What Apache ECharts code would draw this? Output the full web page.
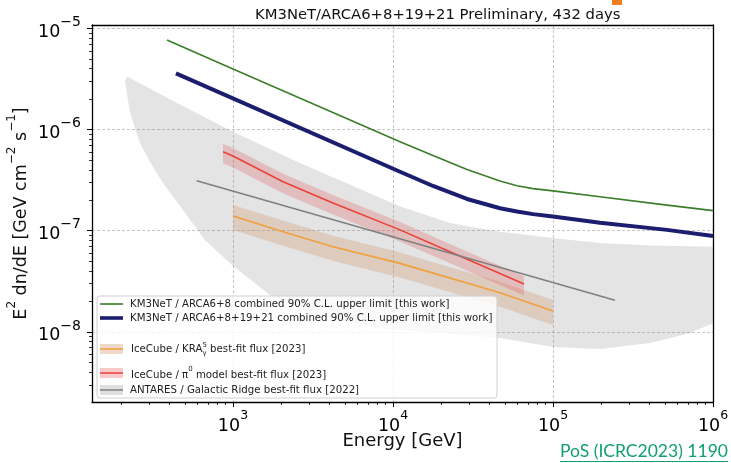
<!DOCTYPE html>
<html><head><meta charset="utf-8">
<script src="https://cdn.jsdelivr.net/npm/echarts@6/dist/echarts.min.js"></script>
<style>html,body{margin:0;padding:0;background:#fff}#c{width:731px;height:463px}</style>
</head><body><div id="c"></div>
<script>
// ---- data (energy in GeV, flux in GeV cm^-2 s^-1) ----
const xRange = [131.5, 1e6];
const yRange = [2.03e-9, 1.08e-5];
const xMajor = [1e3, 1e4, 1e5, 1e6];
const yMajor = [1e-8, 1e-7, 1e-6, 1e-5];

const arca8E = [387, 1000, 11066, 17783, 29010, 46660, 59570, 74990, 1e5, 196600, 515800, 1e6];
const arca8F = [7.66e-6, 3.96e-6, 7.57e-7, 5.53e-7, 4.03e-7, 3.10e-7, 2.78e-7, 2.61e-7, 2.48e-7, 2.17e-7, 1.79e-7, 1.58e-7];

const arca21E = [440, 11066, 17783, 29010, 46660, 59570, 74990, 1e5, 196600, 515800, 1e6];
const arca21F = [3.59e-6, 3.83e-7, 2.77e-7, 2.06e-7, 1.67e-7, 1.55e-7, 1.46e-7, 1.38e-7, 1.20e-7, 1.02e-7, 8.87e-8];

const pi0E = [866, 1000, 2054, 4217, 11066, 22700, 65900];
const pi0F = [6.04e-7, 5.47e-7, 3.05e-7, 1.88e-7, 1.02e-7, 6.2e-8, 2.97e-8];
const pi0Up = [7.25e-7, 6.56e-7, 3.66e-7, 2.26e-7, 1.22e-7, 7.4e-8, 3.56e-8];
const pi0Lo = [4.65e-7, 4.21e-7, 2.35e-7, 1.45e-7, 7.85e-8, 4.77e-8, 2.29e-8];

const kraE = [1000, 2054, 4217, 11066, 46660, 1e5];
const kraF = [1.40e-7, 9.77e-8, 6.95e-8, 4.76e-8, 2.44e-8, 1.61e-8];
const kraUp = [1.80e-7, 1.26e-7, 8.9e-8, 6.1e-8, 3.14e-8, 2.07e-8];
const kraLo = [1.02e-7, 7.1e-8, 5.05e-8, 3.46e-8, 1.77e-8, 1.17e-8];

const antE = [593, 244000];
const antF = [3.12e-7, 2.06e-8];

const antBandUpE = [211, 216, 221, 466, 1000, 2622, 11000, 22700, 46660, 1e5, 196600, 404000, 1e6];
const antBandUpF = [3.0e-6, 3.25e-6, 3.31e-6, 1.77e-6, 9.5e-7, 4.67e-7, 1.75e-7, 1.19e-7, 9.77e-8, 8.47e-8, 7.56e-8, 7.14e-8, 6.95e-8];
const antBandLoE = [211, 218, 227, 244, 262, 303, 365, 487, 668, 1000, 1703, 3500, 8300, 19700, 46660, 1e5, 196600, 404000, 718000, 1e6];
const antBandLoF = [3.0e-6, 2.19e-6, 1.49e-6, 1.035e-6, 7.36e-7, 4.78e-7, 2.96e-7, 1.60e-7, 8.1e-8, 4.48e-8, 2.32e-8, 1.44e-8, 1.09e-8, 9.76e-9, 8.7e-9, 7.1e-9, 6.78e-9, 7.76e-9, 9.75e-9, 1.22e-8];

const legendLabels = [
  'KM3NeT / ARCA6+8 combined 90% C.L. upper limit [this work]',
  'KM3NeT / ARCA6+8+19+21 combined 90% C.L. upper limit [this work]',
  'IceCube / KRA',
  '{t|IceCube / π}{s|0}{t| model best-fit flux [2023]}',
  'ANTARES / Galactic Ridge best-fit flux [2022]'
];

// ---- helpers ----
const FONT = 'DejaVu Sans';
const zip = (a, b) => a.map((v, i) => [v, b[i]]);
function minorTicks(lo, hi) {
  const out = [];
  for (let e = Math.floor(Math.log10(lo)); e <= Math.ceil(Math.log10(hi)); e++) {
    for (let m = 2; m <= 9; m++) {
      const v = m * Math.pow(10, e);
      if (v >= lo && v <= hi) out.push(v);
    }
  }
  return out;
}
function bandSeries(upE, upF, loE, loF, color, z) {
  const poly = zip(upE, upF).concat(zip(loE, loF).reverse());
  return {
    type: 'custom', z: z, silent: true, clip: true,
    data: [poly[0]],
    renderItem: function (params, api) {
      const pts = poly.map(p => api.coord(p));
      return { type: 'polygon', shape: { points: pts }, style: { fill: color, stroke: null } };
    }
  };
}
function lineSeries(E, F, color, width, z) {
  return { type: 'line', data: zip(E, F), showSymbol: false, symbol: 'none', z: z, silent: true,
    lineStyle: { color: color, width: width, cap: 'butt', join: 'round' } };
}
const xRich = {
  b: { fontFamily: FONT, fontSize: 17.5, color: '#000', lineHeight: 26, verticalAlign: 'bottom' },
  s: { fontFamily: FONT, fontSize: 12.5, color: '#000', lineHeight: 14, verticalAlign: 'top' }
};
const yRich = {
  b: { fontFamily: FONT, fontSize: 17.5, color: '#000', lineHeight: 26, verticalAlign: 'bottom' },
  s: { fontFamily: FONT, fontSize: 14, color: '#000', lineHeight: 15, verticalAlign: 'top' }
};

const C_GREEN = '#3b7d2a', C_NAVY = '#1b1d6e', C_RED = '#ea4238', C_ORANGE = '#f0a03c', C_GRAY = '#808080';

const chart = echarts.init(document.getElementById('c'), null, { renderer: 'canvas' });

// text measurement
const ctx = document.createElement('canvas').getContext('2d');
ctx.font = '10.2px "DejaVu Sans"';
const wKRA = ctx.measureText(legendLabels[2]).width;
ctx.font = '7px "DejaVu Sans"';
const wSup = Math.max(ctx.measureText('5').width, ctx.measureText('γ').width);
ctx.font = '20px Lato';
const posSize = Math.min(21, 20 * 168 / ctx.measureText('PoS (ICRC2023) 1190').width);

const LF = '10.2px "DejaVu Sans"';
const LX = 130; // legend text x
const legendGraphics = [
  { type: 'rect', shape: { x: 97, y: 296, width: 400, height: 102, r: 3 }, style: { fill: 'rgba(255,255,255,0.8)', stroke: '#d0d0d0', lineWidth: 1 }, z: 100 },
  { type: 'line', shape: { x1: 100, y1: 304, x2: 123, y2: 304 }, style: { stroke: C_GREEN, lineWidth: 1.6 }, z: 101 },
  { type: 'text', x: LX, y: 304, style: { text: legendLabels[0], font: LF, fill: '#222', verticalAlign: 'middle' }, z: 101 },
  { type: 'line', shape: { x1: 100, y1: 318, x2: 123, y2: 318 }, style: { stroke: C_NAVY, lineWidth: 3.6 }, z: 101 },
  { type: 'text', x: LX, y: 318, style: { text: legendLabels[1], font: LF, fill: '#222', verticalAlign: 'middle' }, z: 101 },
  { type: 'rect', shape: { x: 100, y: 344, width: 23, height: 10 }, style: { fill: 'rgba(210,150,100,0.35)' }, z: 101 },
  { type: 'line', shape: { x1: 100, y1: 349, x2: 123, y2: 349 }, style: { stroke: C_ORANGE, lineWidth: 1.5 }, z: 102 },
  { type: 'text', x: LX + 1, y: 349, style: { text: legendLabels[2], font: LF, fill: '#222', verticalAlign: 'middle' }, z: 101 },
  { type: 'text', x: LX + 1 + wKRA, y: 345, style: { text: '5', font: '7px "DejaVu Sans"', fill: '#222', verticalAlign: 'middle' }, z: 101 },
  { type: 'text', x: LX + 1 + wKRA, y: 353, style: { text: 'γ', font: '7px "DejaVu Sans"', fill: '#222', verticalAlign: 'middle' }, z: 101 },
  { type: 'text', x: LX + 1 + wKRA + wSup, y: 349, style: { text: ' best-fit flux [2023]', font: LF, fill: '#222', verticalAlign: 'middle' }, z: 101 },
  { type: 'rect', shape: { x: 100, y: 368, width: 23, height: 10 }, style: { fill: 'rgba(232,80,80,0.3)' }, z: 101 },
  { type: 'line', shape: { x1: 100, y1: 373, x2: 123, y2: 373 }, style: { stroke: C_RED, lineWidth: 1.5 }, z: 102 },
  { type: 'text', x: LX + 1, y: 373, style: { text: legendLabels[3], font: LF, fill: '#222', verticalAlign: 'middle',
      rich: { t: { fontSize: 10.2, fontFamily: FONT, fill: '#222', lineHeight: 14, verticalAlign: 'bottom' }, s: { fontSize: 7, fontFamily: FONT, fill: '#222', lineHeight: 10, verticalAlign: 'top' } } }, z: 101 },
  { type: 'rect', shape: { x: 100, y: 385, width: 23, height: 10 }, style: { fill: 'rgba(150,150,150,0.3)' }, z: 101 },
  { type: 'line', shape: { x1: 100, y1: 390, x2: 123, y2: 390 }, style: { stroke: C_GRAY, lineWidth: 1.5 }, z: 102 },
  { type: 'text', x: LX, y: 390, style: { text: legendLabels[4], font: LF, fill: '#222', verticalAlign: 'middle' }, z: 101 },
  // slide decorations
  { type: 'text', x: 560, y: 451, style: { text: 'PoS (ICRC2023) 1190', font: posSize.toFixed(2) + 'px Lato', fill: '#12a06c', verticalAlign: 'middle' }, z: 101 },
  { type: 'line', shape: { x1: 560, y1: 461.5, x2: 728, y2: 461.5 }, style: { stroke: '#12a06c', lineWidth: 1.2 }, z: 101 },
  { type: 'rect', shape: { x: 612, y: 0, width: 10, height: 5 }, style: { fill: '#f07d1e' }, z: 101 }
];

const option = {
  animation: false,
  backgroundColor: '#fff',
  title: {
    text: 'KM3NeT/ARCA6+8+19+21 Preliminary, 432 days',
    left: 250, top: 3,
    textStyle: { fontFamily: FONT, fontSize: 14.8, fontWeight: 'normal', color: '#111' }
  },
  grid: { left: 92, top: 25, right: 18, bottom: 61, containLabel: false, outerBoundsMode: 'none' },
  xAxis: [
    { type: 'log', min: xRange[0], max: xRange[1], position: 'bottom', nameMoveOverlap: false,
      axisLine: { show: true, onZero: false, lineStyle: { color: '#000', width: 1.3 } },
      axisTick: { show: true, customValues: xMajor, length: 5, lineStyle: { color: '#000', width: 1 } },
      axisLabel: { customValues: xMajor, margin: 7, formatter: v => '{b|10}{s|' + Math.round(Math.log10(v)) + '}', rich: xRich },
      splitLine: { show: true, lineStyle: { color: '#b8b8b8', width: 0.8, type: [3, 2] } },
      name: 'Energy [GeV]', nameLocation: 'middle', nameGap: 30,
      nameTextStyle: { fontFamily: FONT, fontSize: 18, color: '#111' } },
    { type: 'log', min: xRange[0], max: xRange[1], position: 'bottom',
      axisLine: { show: false, onZero: false },
      axisTick: { show: true, customValues: minorTicks(xRange[0], xRange[1]), length: 3, lineStyle: { color: '#000', width: 0.8 } },
      axisLabel: { show: false }, splitLine: { show: false } },
    { type: 'log', min: xRange[0], max: xRange[1], position: 'top',
      axisLine: { show: true, onZero: false, lineStyle: { color: '#000', width: 1.3 } },
      axisTick: { show: false }, axisLabel: { show: false }, splitLine: { show: false } }
  ],
  yAxis: [
    { type: 'log', min: yRange[0], max: yRange[1], position: 'left', nameMoveOverlap: false,
      axisLine: { show: true, onZero: false, lineStyle: { color: '#000', width: 1.3 } },
      axisTick: { show: true, customValues: yMajor, length: 5, lineStyle: { color: '#000', width: 1 } },
      axisLabel: { customValues: yMajor, margin: 11, formatter: v => '{b|10}{s|−' + Math.abs(Math.round(Math.log10(v))) + '}', rich: yRich },
      splitLine: { show: true, lineStyle: { color: '#b8b8b8', width: 0.8, type: [3, 2] } },
      name: '{n|E}{s|2}{n| dn/dE [GeV cm}{s|−2}{n| s}{s|−1}{n|]}', nameLocation: 'middle', nameGap: 62, nameRotate: 90,
      nameTextStyle: { rich: {
        n: { fontFamily: FONT, fontSize: 17.5, color: '#111', lineHeight: 24, verticalAlign: 'bottom' },
        s: { fontFamily: FONT, fontSize: 12, color: '#111', lineHeight: 14, verticalAlign: 'top' } } } },
    { type: 'log', min: yRange[0], max: yRange[1], position: 'left',
      axisLine: { show: false, onZero: false },
      axisTick: { show: true, customValues: minorTicks(yRange[0], yRange[1]), length: 3, lineStyle: { color: '#000', width: 0.8 } },
      axisLabel: { show: false }, splitLine: { show: false } },
    { type: 'log', min: yRange[0], max: yRange[1], position: 'right',
      axisLine: { show: true, onZero: false, lineStyle: { color: '#000', width: 1.3 } },
      axisTick: { show: false }, axisLabel: { show: false }, splitLine: { show: false } }
  ],
  series: [
    bandSeries(antBandUpE, antBandUpF, antBandLoE, antBandLoF, 'rgba(128,128,128,0.21)', 1),
    bandSeries(kraE, kraUp, kraE, kraLo, 'rgba(205,140,90,0.28)', 2),
    bandSeries(pi0E, pi0Up, pi0E, pi0Lo, 'rgba(220,90,90,0.28)', 2),
    lineSeries(kraE, kraF, C_ORANGE, 1.6, 3),
    lineSeries(pi0E, pi0F, C_RED, 1.6, 3),
    lineSeries(antE, antF, C_GRAY, 1.6, 3),
    lineSeries(arca8E, arca8F, C_GREEN, 1.6, 4),
    lineSeries(arca21E, arca21F, C_NAVY, 4, 4)
  ],
  graphic: { elements: legendGraphics }
};
chart.setOption(option);
</script>
</body></html>
